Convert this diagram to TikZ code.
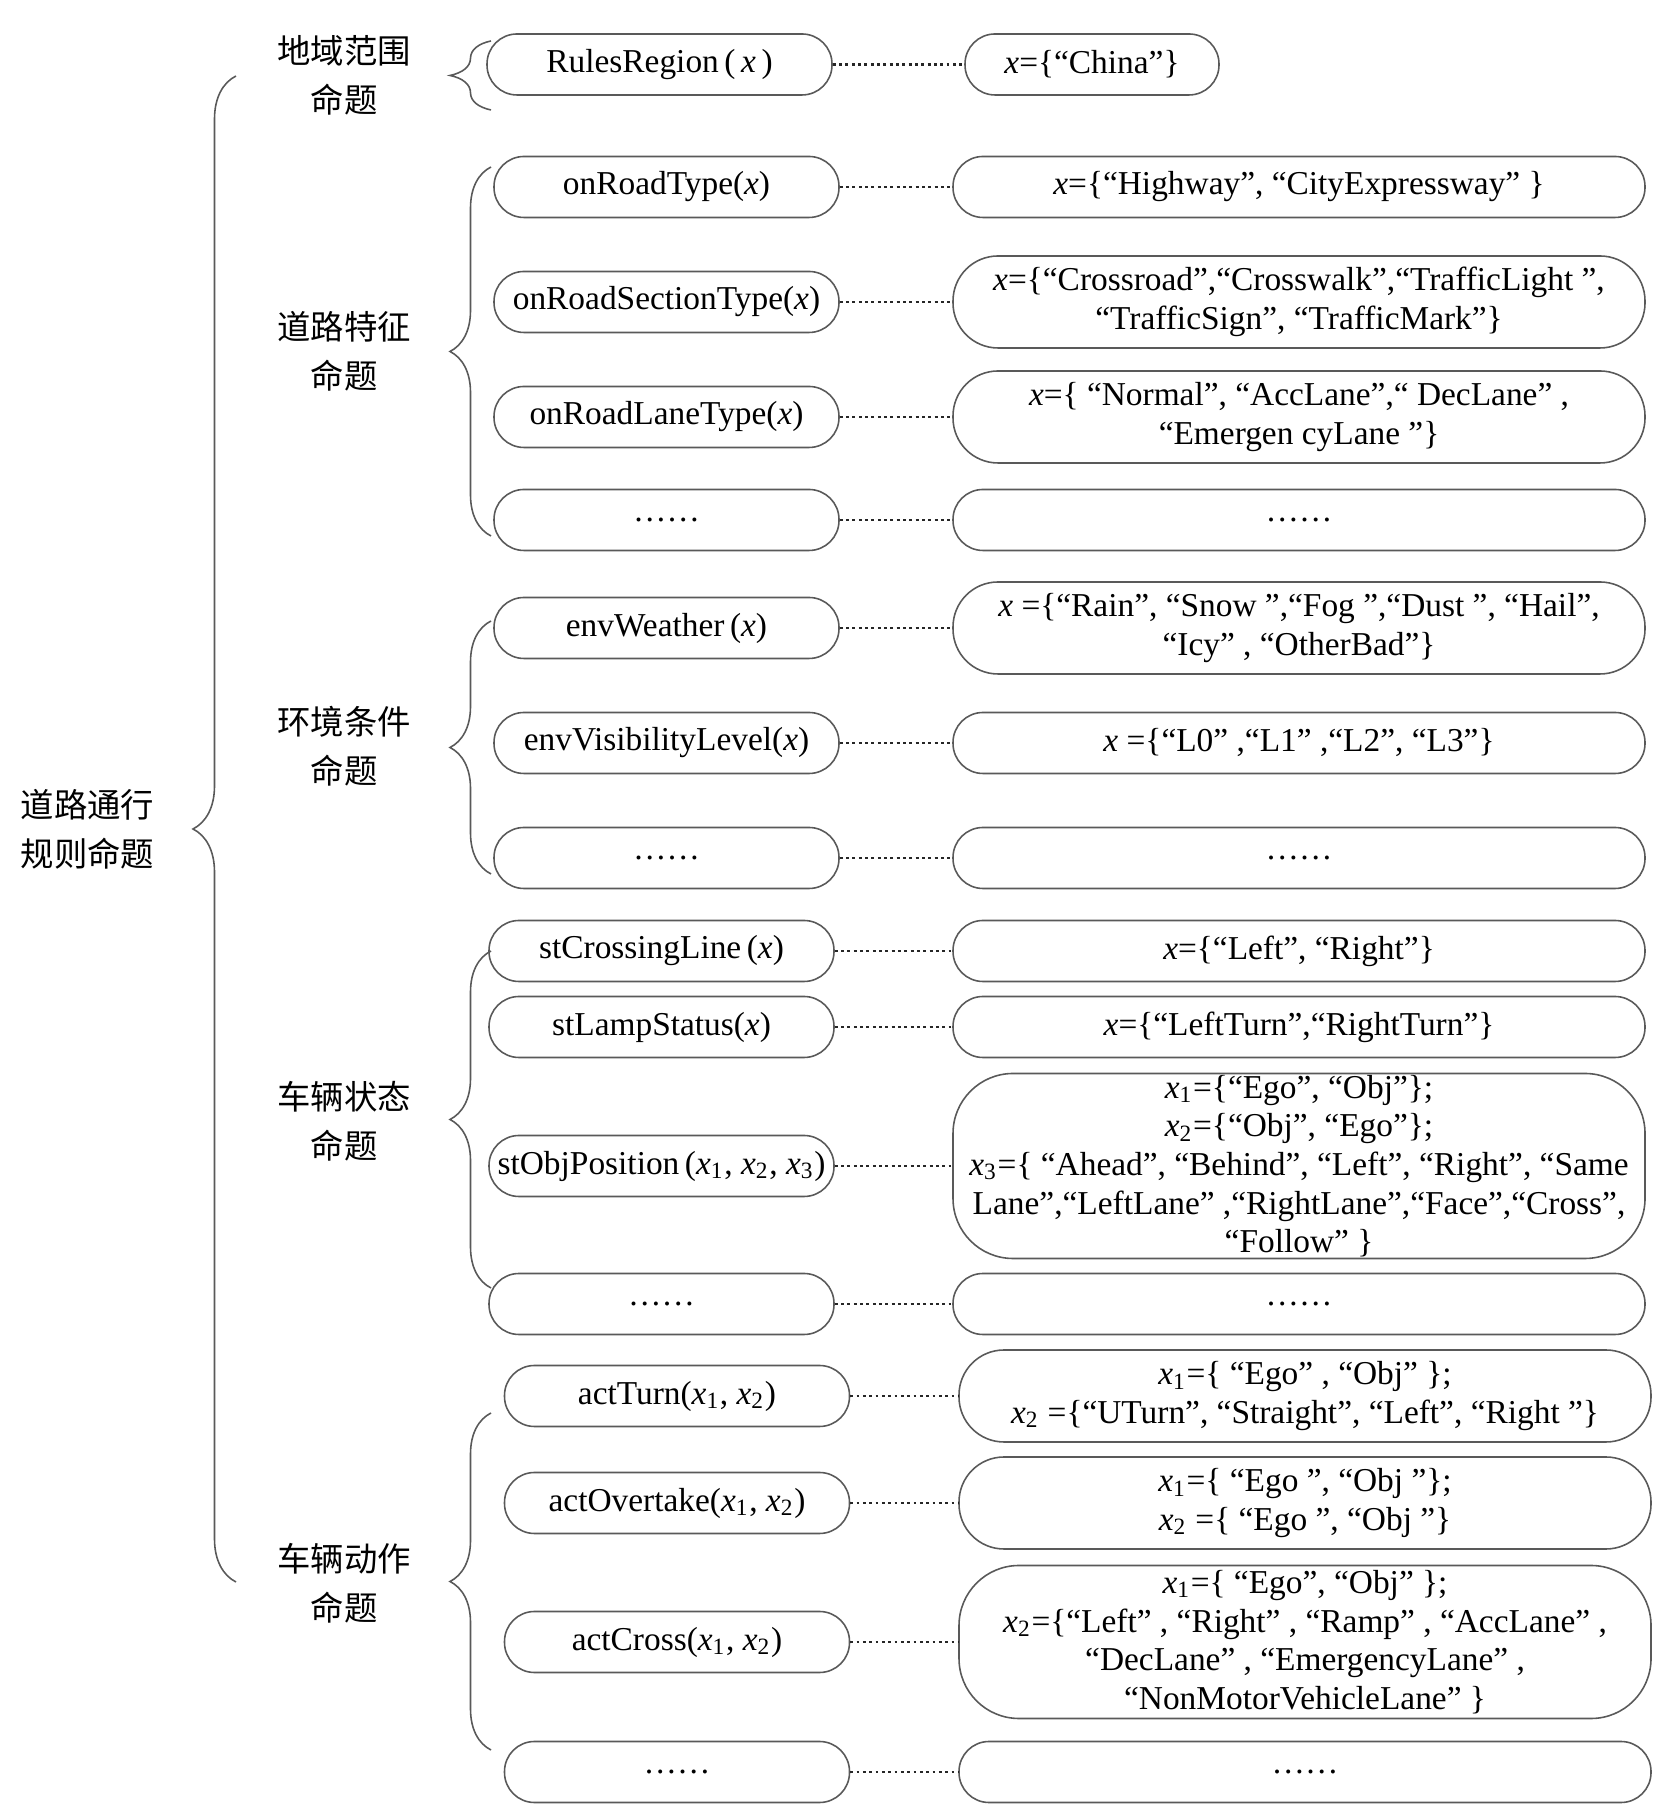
\documentclass[tikz,border=0pt]{standalone}
\usepackage{fontspec}
\setmainfont{Liberation Serif}
\newfontfamily\cjk{Noto Sans CJK SC}
\usetikzlibrary{decorations.pathreplacing}
\newcommand{\xsub}[1]{\textit{x}\textsubscript{#1}}
\tikzset{
  propbox/.style={draw=black!65, line width=0.45pt, rounded corners=0.3cm, minimum width=3.45cm, minimum height=0.61cm, inner sep=0pt, align=center, font=\fontsize{9.5}{11}\selectfont},
  valbox/.style={propbox, minimum width=6.92cm},
  tallbox/.style={minimum height=0.92cm, rounded corners=0.45cm},
  bigbox/.style={rounded corners=0.6cm},
  catlabel/.style={align=center, inner sep=0pt, font=\cjk\fontsize{9.5}{13.9}\selectfont},
  dotlink/.style={densely dotted, line width=0.8pt, draw=black!85},
  catbrace/.style={draw=black!65, line width=0.45pt, decorate, decoration={brace, amplitude=0.41cm}},
}

\begin{document}
\begin{tikzpicture}
\useasboundingbox (0,0) rectangle (16.54,18.19);
% root and braces
\node[catlabel] (rootlabel) at (0.875,9.90) {道路通行\\规则命题};
\draw[catbrace, decoration={brace, amplitude=0.43cm}] (2.36,2.37) -- (2.36,17.43);
\node[catlabel] (regionlabel) at (3.44,17.44) {地域范围\\命题};
\node[catlabel] (roadlabel) at (3.44,14.68) {道路特征\\命题};
\node[catlabel] (envlabel) at (3.44,10.725) {环境条件\\命题};
\node[catlabel] (statelabel) at (3.44,6.98) {车辆状态\\命题};
\node[catlabel] (actlabel) at (3.44,2.36) {车辆动作\\命题};
\draw[catbrace] (4.91,17.09) -- (4.91,17.78);
\draw[catbrace] (4.91,12.83) -- (4.91,16.52);
\draw[catbrace] (4.91,9.45) -- (4.91,11.98);
\draw[catbrace] (4.91,5.31) -- (4.91,8.68);
\draw[catbrace] (4.91,0.69) -- (4.91,4.06);
% region
\node[propbox] (rulesregion) at (6.595,17.545) {RulesRegion\,(\,\textit{x}\,)};
\node[valbox, minimum width=2.54cm] (china) at (10.92,17.545) {\textit{x}=\{“China”\}};
% road
\node[propbox] (roadtype) at (6.665,16.32) {onRoadType(\textit{x})};
\node[propbox] (sectiontype) at (6.665,15.17) {onRoadSectionType(\textit{x})};
\node[propbox] (lanetype) at (6.665,14.02) {onRoadLaneType(\textit{x})};
\node[propbox] (roaddots) at (6.665,12.99) {……};
\node[valbox] (roadtypeval) at (12.99,16.32) {\textit{x}=\{“Highway”, “CityExpressway” \}};
\node[valbox, tallbox] (sectiontypeval) at (12.99,15.17) {\textit{x}=\{“Crossroad”,“Crosswalk”,“TrafficLight ”,\\“TrafficSign”, “TrafficMark”\}};
\node[valbox, tallbox] (lanetypeval) at (12.99,14.02) {\textit{x}=\{ “Normal”, “AccLane”,“ DecLane” ,\\“Emergen cyLane ”\}};
\node[valbox] (roaddotsval) at (12.99,12.99) {……};
% environment
\node[propbox] (weather) at (6.665,11.91) {envWeather\,(\textit{x})};
\node[propbox] (visibility) at (6.665,10.76) {envVisibilityLevel(\textit{x})};
\node[propbox] (envdots) at (6.665,9.61) {……};
\node[valbox, tallbox] (weatherval) at (12.99,11.91) {\textit{x} =\{“Rain”, “Snow ”,“Fog ”,“Dust ”, “Hail”,\\“Icy” , “OtherBad”\}};
\node[valbox] (visibilityval) at (12.99,10.76) {\textit{x} =\{“L0” ,“L1” ,“L2”, “L3”\}};
\node[valbox] (envdotsval) at (12.99,9.61) {……};
% vehicle state
\node[propbox] (crossingline) at (6.615,8.68) {stCrossingLine\,(\textit{x})};
\node[propbox] (lampstatus) at (6.615,7.92) {stLampStatus(\textit{x})};
\node[propbox] (objposition) at (6.615,6.53) {stObjPosition\,(\xsub{1}, \xsub{2}, \xsub{3})};
\node[propbox] (stdots) at (6.615,5.15) {……};
\node[valbox] (crossinglineval) at (12.99,8.68) {\textit{x}=\{“Left”, “Right”\}};
\node[valbox] (lampstatusval) at (12.99,7.92) {\textit{x}=\{“LeftTurn”,“RightTurn”\}};
\node[valbox, bigbox, minimum height=1.85cm] (objpositionval) at (12.99,6.53) {\xsub{1}=\{“Ego”, “Obj”\};\\\xsub{2}=\{“Obj”, “Ego”\};\\\xsub{3}=\{ “Ahead”, “Behind”, “Left”, “Right”, “Same\\Lane”,“LeftLane” ,“RightLane”,“Face”,“Cross”,\\“Follow” \}};
\node[valbox] (stdotsval) at (12.99,5.15) {……};
% vehicle action
\node[propbox] (turn) at (6.77,4.23) {actTurn(\xsub{1}, \xsub{2})};
\node[propbox] (overtake) at (6.77,3.16) {actOvertake(\xsub{1}, \xsub{2})};
\node[propbox] (crossact) at (6.77,1.77) {actCross(\xsub{1}, \xsub{2})};
\node[propbox] (actdots) at (6.77,0.47) {……};
\node[valbox, tallbox] (turnval) at (13.05,4.23) {\xsub{1}=\{ “Ego” , “Obj” \};\\\xsub{2} =\{“UTurn”, “Straight”, “Left”, “Right ”\}};
\node[valbox, tallbox] (overtakeval) at (13.05,3.16) {\xsub{1}=\{ “Ego ”, “Obj ”\};\\\xsub{2} =\{ “Ego ”, “Obj ”\}};
\node[valbox, bigbox, minimum height=1.53cm] (crossactval) at (13.05,1.77) {\xsub{1}=\{ “Ego”, “Obj” \};\\\xsub{2}=\{“Left” , “Right” , “Ramp” , “AccLane” ,\\“DecLane” , “EmergencyLane” ,\\“NonMotorVehicleLane” \}};
\node[valbox] (actdotsval) at (13.05,0.47) {……};
% links
\draw[dotlink] (rulesregion) -- (china);
\draw[dotlink] (roadtype) -- (roadtypeval);
\draw[dotlink] (sectiontype) -- (sectiontypeval);
\draw[dotlink] (lanetype) -- (lanetypeval);
\draw[dotlink] (roaddots) -- (roaddotsval);
\draw[dotlink] (weather) -- (weatherval);
\draw[dotlink] (visibility) -- (visibilityval);
\draw[dotlink] (envdots) -- (envdotsval);
\draw[dotlink] (crossingline) -- (crossinglineval);
\draw[dotlink] (lampstatus) -- (lampstatusval);
\draw[dotlink] (objposition) -- (objpositionval);
\draw[dotlink] (stdots) -- (stdotsval);
\draw[dotlink] (turn) -- (turnval);
\draw[dotlink] (overtake) -- (overtakeval);
\draw[dotlink] (crossact) -- (crossactval);
\draw[dotlink] (actdots) -- (actdotsval);
\end{tikzpicture}
\end{document}
